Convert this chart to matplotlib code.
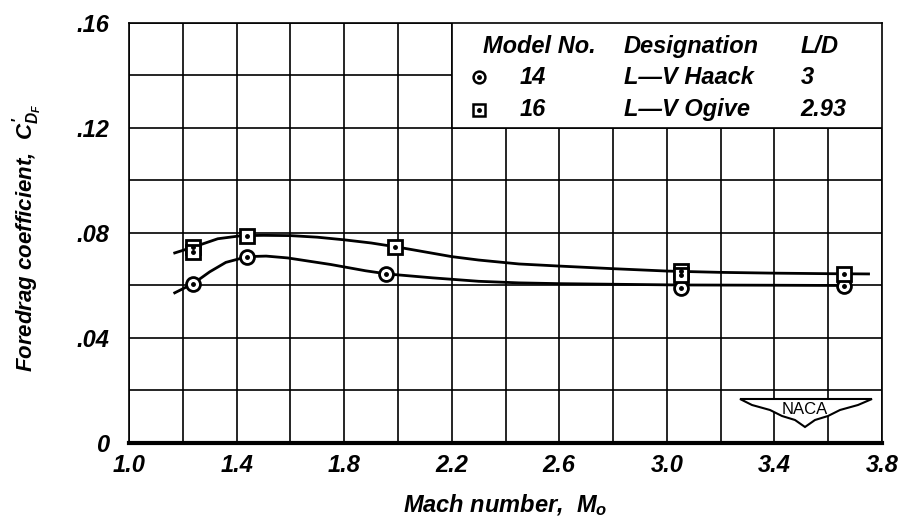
import matplotlib
matplotlib.use("Agg")
import matplotlib.pyplot as plt
from matplotlib.patches import Rectangle, Polygon

plt.rcParams["font.family"] = ["Liberation Sans", "DejaVu Sans"]
plt.rcParams["font.weight"] = "bold"
plt.rcParams["font.style"] = "italic"
plt.rcParams["axes.labelweight"] = "bold"
plt.rcParams["mathtext.fontset"] = "custom"
plt.rcParams["mathtext.it"] = "Liberation Sans:bold:italic"
plt.rcParams["mathtext.rm"] = "Liberation Sans:bold:italic"
plt.rcParams["mathtext.bf"] = "Liberation Sans:bold:italic"

# test points, model 14 (L-V Haack) and model 16 (L-V Ogive)
m14_mach = [1.237, 1.437, 1.956, 3.052, 3.659]
m14_cdf = [0.0606, 0.0709, 0.0644, 0.0592, 0.0598]
m16_mach = [1.237, 1.237, 1.44, 1.99, 3.052, 3.052, 3.659]
m16_cdf = [0.0748, 0.0728, 0.0789, 0.0747, 0.0656, 0.0640, 0.0644]

# faired curves
fair14_mach = [1.17, 1.24, 1.30, 1.36, 1.44, 1.51, 1.59, 1.75, 1.88, 1.96,
               2.13, 2.30, 2.45, 2.60, 3.04, 3.40, 3.66]
fair14_cdf = [0.0572, 0.0608, 0.0652, 0.0688, 0.0710, 0.0712, 0.0705, 0.0680,
              0.0656, 0.0644, 0.0629, 0.0616, 0.0610, 0.0607, 0.0602, 0.0601, 0.0600]
fair16_mach = [1.17, 1.25, 1.33, 1.42, 1.50, 1.60, 1.70, 1.80, 1.90, 2.00, 2.10,
               2.20, 2.30, 2.45, 2.60, 2.80, 3.00, 3.20, 3.40, 3.60, 3.75]
fair16_cdf = [0.0724, 0.0750, 0.0778, 0.0790, 0.0791, 0.0790, 0.0784, 0.0774,
              0.0762, 0.0746, 0.0728, 0.0710, 0.0697, 0.0682, 0.0674, 0.0664,
              0.0655, 0.0650, 0.0647, 0.0645, 0.0644]

x_grid = [1.0, 1.2, 1.4, 1.6, 1.8, 2.0, 2.2, 2.4, 2.6, 2.8, 3.0, 3.2, 3.4, 3.6, 3.8]
x_labels = ["1.0", "", "1.4", "", "1.8", "", "2.2", "", "2.6", "", "3.0", "", "3.4", "", "3.8"]
y_grid = [0, 0.02, 0.04, 0.06, 0.08, 0.10, 0.12, 0.14, 0.16]
y_labels = ["0", "", ".04", "", ".08", "", ".12", "", ".16"]

legend_header = ["Model No.", "Designation", "L/D"]
legend_rows = [["14", "L\u2014V Haack", "3"], ["16", "L\u2014V Ogive", "2.93"]]

fig = plt.figure(figsize=(9.06, 5.26), dpi=100)
ax = fig.add_axes([0.1424, 0.1578, 0.8311, 0.7985])

ax.set_xlim(1.0, 3.8)
ax.set_ylim(0, 0.16)
ax.set_xticks(x_grid)
ax.set_xticklabels(x_labels)
ax.set_yticks(y_grid)
ax.set_yticklabels(y_labels)
ax.tick_params(length=0, labelsize=17)
ax.tick_params(axis="x", pad=8)
ax.tick_params(axis="y", pad=14)
ax.grid(True, color="black", linewidth=1.2)
ax.set_axisbelow(True)

for s in ["left", "right", "top"]:
    ax.spines[s].set_linewidth(1.2)
ax.spines["bottom"].set_linewidth(3.0)

ax.plot(fair14_mach, fair14_cdf, color="black", lw=2.0, zorder=3)
ax.plot(fair16_mach, fair16_cdf, color="black", lw=2.0, zorder=3)

mk = dict(linestyle="none", mfc="white", mec="black", mew=2.0, zorder=4)
ax.plot(m14_mach, m14_cdf, marker="o", ms=10, **mk)
ax.plot(m16_mach, m16_cdf, marker="s", ms=9.5, **mk)
ax.plot(m14_mach + m16_mach, m14_cdf + m16_cdf, linestyle="none", marker="o",
        ms=2.5, color="black", zorder=5)

ax.set_xlabel("Mach number,  $M_o$", fontsize=17, fontweight="bold")
ax.xaxis.set_label_coords(0.5, -0.118)
ax.set_ylabel("Foredrag coefficient,  $C^{\\prime}_{D_F}$", fontsize=16, fontweight="bold")
ax.yaxis.set_label_coords(-0.112, 0.49)

# legend table
ax.add_patch(Rectangle((0.4286, 0.75), 0.5714, 0.25, transform=ax.transAxes,
                       facecolor="white", edgecolor="black", lw=1.2, zorder=6))
cols = [0.470, 0.657, 0.892]
for c, h in zip(cols, legend_header):
    ax.text(c, 0.943, h, transform=ax.transAxes, fontsize=17, va="center", ha="left", zorder=7)
row_y = [0.871, 0.793]
row_cols = [0.519, 0.657, 0.892]
for yy, row, m in zip(row_y, legend_rows, ["o", "s"]):
    ax.plot([0.465], [yy], marker=m, ms=8.5, transform=ax.transAxes, clip_on=False,
            linestyle="none", mfc="white", mec="black", mew=1.8, zorder=7)
    ax.plot([0.465], [yy], marker="o", ms=2.5, color="black", transform=ax.transAxes,
            clip_on=False, zorder=8)
    for c, t in zip(row_cols, row):
        ax.text(c, yy, t, transform=ax.transAxes, fontsize=17, va="center", ha="left", zorder=7)

# NACA wing logo
wing = [(740, 399), (872, 399), (858, 405), (840, 410), (828, 416), (815, 420),
        (805, 427), (795, 420), (782, 416), (770, 410), (752, 405)]
wing_ax = [((px - 129) / 753, (443 - py) / 420) for px, py in wing]
ax.add_patch(Polygon(wing_ax, closed=True, transform=ax.transAxes, facecolor="white",
                     edgecolor="black", lw=1.5, zorder=6))
ax.text((805 - 129) / 753, (443 - 410) / 420, "NACA", transform=ax.transAxes,
        fontsize=12, fontweight="normal", fontstyle="normal", ha="center", va="center",
        zorder=7)

fig.savefig("out.png", dpi=100)
